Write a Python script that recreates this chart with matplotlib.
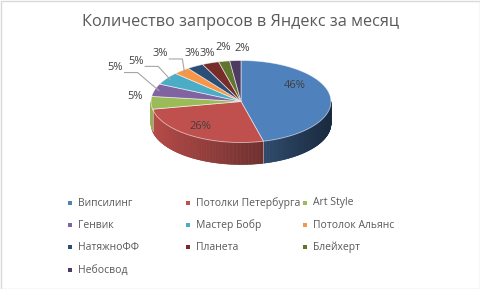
import numpy as np
import matplotlib.pyplot as plt
from matplotlib.patches import Polygon, Rectangle
from matplotlib.collections import PolyCollection
import matplotlib.colors as mcolors

plt.rcParams['font.family'] = ['Open Sans', 'DejaVu Sans']

companies = ['Випсилинг', 'Потолки Петербурга', 'Art Style', 'Генвик', 'Мастер Бобр',
             'Потолок Альянс', 'НатяжноФФ', 'Планета', 'Блейхерт', 'Небосвод']
shares = [46, 26, 5, 5, 5, 3, 3, 3, 2, 2]
colors = ['#4F81BD', '#C0504D', '#9BBB59', '#8064A2', '#4BACC6',
          '#F79646', '#2C4D75', '#772C2A', '#5F7530', '#4D3B62']
title = 'Количество запросов в Яндекс за месяц'

# label nudges (px) to mimic Excel's label placement
label_nudge = [(0, -13), (-12, 4), (4, -7), (-20, -20), (-14, -12),
               (-8, -10), (7, -5), (3, -1), (3, -5), (8, -3)]
leader = [False, False, False, True, True, True, False, False, False, False]

W, H = 481, 289
fig = plt.figure(figsize=(W / 100, H / 100), dpi=100)
ax = fig.add_axes([0, 0, 1, 1])
ax.set_xlim(0, W)
ax.set_ylim(H, 0)
ax.axis('off')

cx, cy, rx, ry, depth = 241, 101.5, 90, 41, 22


def pt(a, k=1.0, dy=0.0):
    r = np.radians(a)
    return cx + k * rx * np.cos(r), cy - k * ry * np.sin(r) + dy


total = float(sum(shares))
ends = 90 - 360 * np.cumsum(shares) / total
starts = np.r_[90, ends[:-1]]

# side wall (front half only), shaded from left to right
polys, fcs = [], []
for s, e, c in zip(starts, ends, colors):
    grid = np.linspace(s, e, max(int(abs(s - e)) * 2, 2))
    base = np.array(mcolors.to_rgb(c))
    for a0, a1 in zip(grid[:-1], grid[1:]):
        am = (a0 + a1) / 2 % 360
        if not (180 <= am <= 360):
            continue
        x0, y0 = pt(a0)
        x1, y1 = pt(a1)
        polys.append([(x0, y0), (x1, y1), (x1, y1 + depth), (x0, y0 + depth)])
        frac = ((x0 + x1) / 2 - (cx - rx)) / (2 * rx)
        fcs.append(np.clip(base * (0.95 - 0.62 * frac), 0, 1))
ax.add_collection(PolyCollection(polys, facecolors=fcs, edgecolors=fcs, linewidths=0.4))

# separators on the wall
for e in ends:
    if 180 <= e % 360 <= 360:
        x0, y0 = pt(e)
        ax.plot([x0, x0], [y0, y0 + depth], color=(1, 1, 1, 0.5), lw=0.6)

# top faces
for s, e, c in zip(starts, ends, colors):
    t = np.linspace(s, e, 120)
    xs, ys = pt(t)
    verts = [(cx, cy)] + list(zip(xs, ys))
    ax.add_patch(Polygon(verts, closed=True, facecolor=c, edgecolor=(1, 1, 1, 0.6), lw=0.6))

# data labels
for i, (s, e, v) in enumerate(zip(starts, ends, shares)):
    mid = (s + e) / 2
    k = 0.6 if v >= 10 else 1.22
    lx, ly = pt(mid, k)
    lx += label_nudge[i][0]
    ly += label_nudge[i][1]
    ax.text(lx, ly, f'{v / total:.0%}', ha='center', va='center',
            fontsize=8, color='#404040')
    if leader[i]:
        ex, ey = pt(mid, 0.95)
        ax.plot([lx + 9, lx + 22, ex], [ly + 5, ly + 5, ey], color='#A6A6A6', lw=0.8)

ax.text(W / 2, 22, title, ha='center', va='center', fontsize=11.7, color='#595959')

# legend
col_x = [70, 188, 305]
row_y = [203, 225, 247, 270]
for i, (name, c) in enumerate(zip(companies, colors)):
    x, y = col_x[i % 3], row_y[i // 3]
    ax.add_patch(Rectangle((x - 2, y - 2), 4, 4, facecolor=c, edgecolor='none'))
    ax.text(x + 8, y, name, ha='left', va='center', fontsize=7.5, color='#595959')

ax.add_patch(Rectangle((0.5, 0.5), W - 1, H - 1, fill=False, ec='#D9D9D9', lw=1))

fig.savefig('out.png', dpi=100)
